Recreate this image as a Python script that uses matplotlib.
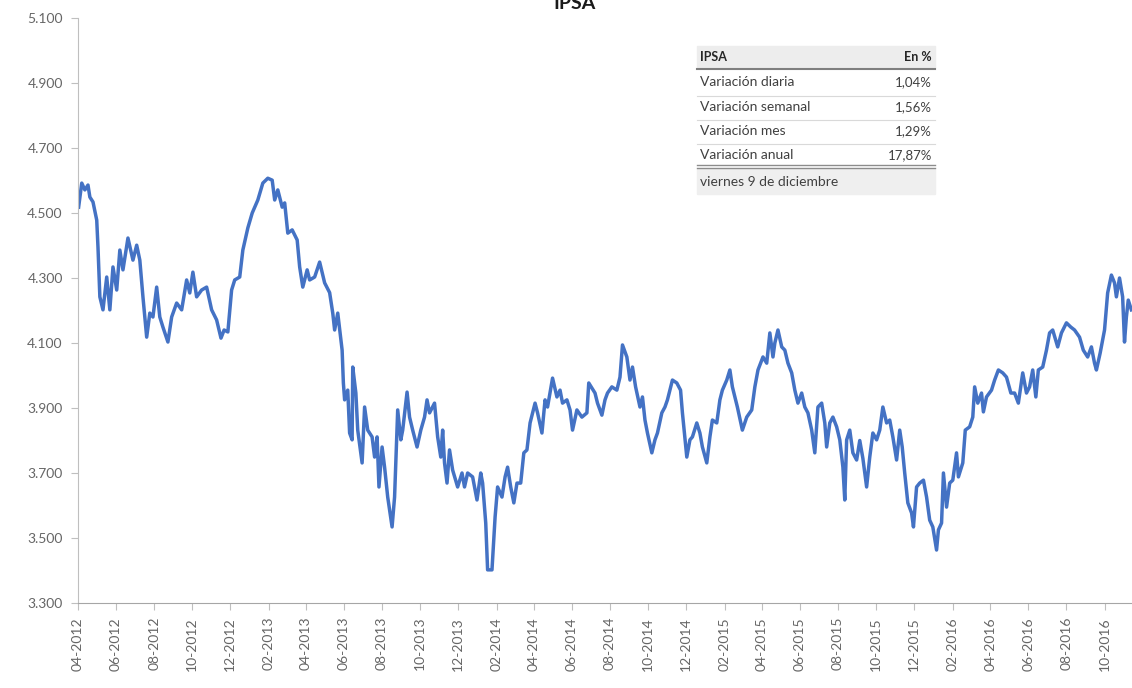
import pandas as pd
import matplotlib
matplotlib.use("Agg")
import matplotlib.pyplot as plt
import matplotlib.dates as mdates
from matplotlib.ticker import FuncFormatter
from matplotlib.patches import Rectangle
from matplotlib.lines import Line2D

plt.rcParams['font.family'] = ['Lato', 'DejaVu Sans']

# IPSA closes (points)
dates = [
    "2012-04-02", "2012-04-07", "2012-04-12", "2012-04-17", "2012-04-20", "2012-04-25", "2012-05-01", "2012-05-03",
    "2012-05-06", "2012-05-11", "2012-05-17", "2012-05-22", "2012-05-27", "2012-06-02", "2012-06-07", "2012-06-12",
    "2012-06-20", "2012-06-28", "2012-07-04", "2012-07-09", "2012-07-14", "2012-07-20", "2012-07-25", "2012-07-30",
    "2012-08-05", "2012-08-10", "2012-08-15", "2012-08-23", "2012-08-29", "2012-09-06", "2012-09-14", "2012-09-22",
    "2012-09-27", "2012-10-02", "2012-10-08", "2012-10-16", "2012-10-24", "2012-11-01", "2012-11-09", "2012-11-16",
    "2012-11-21", "2012-11-27", "2012-12-03", "2012-12-08", "2012-12-16", "2012-12-21", "2012-12-29",
    "2013-01-05", "2013-01-09", "2013-01-14", "2013-01-22", "2013-01-30", "2013-02-06", "2013-02-10", "2013-02-15",
    "2013-02-22", "2013-02-26", "2013-03-03", "2013-03-10", "2013-03-18", "2013-03-22", "2013-03-27", "2013-04-03",
    "2013-04-07", "2013-04-15", "2013-04-23", "2013-05-01", "2013-05-09", "2013-05-14", "2013-05-17", "2013-05-22",
    "2013-05-29", "2013-05-31", "2013-06-02", "2013-06-07", "2013-06-10", "2013-06-14", "2013-06-15", "2013-06-20",
    "2013-06-23", "2013-06-30", "2013-07-04", "2013-07-09", "2013-07-16", "2013-07-20", "2013-07-24", "2013-07-27",
    "2013-08-01", "2013-08-05", "2013-08-10", "2013-08-17", "2013-08-21", "2013-08-26", "2013-08-31", "2013-09-03",
    "2013-09-10", "2013-09-14", "2013-09-19", "2013-09-26", "2013-10-02", "2013-10-08", "2013-10-12", "2013-10-16",
    "2013-10-24", "2013-10-29", "2013-11-03", "2013-11-06", "2013-11-09", "2013-11-13", "2013-11-17", "2013-11-22",
    "2013-11-30", "2013-12-07", "2013-12-11", "2013-12-16", "2013-12-24", "2013-12-31",
    "2014-01-06", "2014-01-09", "2014-01-14", "2014-01-17", "2014-01-24", "2014-01-29", "2014-02-02", "2014-02-09",
    "2014-02-14", "2014-02-18", "2014-02-23", "2014-02-28", "2014-03-05", "2014-03-11", "2014-03-16", "2014-03-21",
    "2014-03-26", "2014-04-03", "2014-04-07", "2014-04-14", "2014-04-19", "2014-04-23", "2014-05-01", "2014-05-08",
    "2014-05-13", "2014-05-17", "2014-05-24", "2014-05-29", "2014-06-02", "2014-06-09", "2014-06-17", "2014-06-25",
    "2014-06-28", "2014-07-08", "2014-07-12", "2014-07-19", "2014-07-24", "2014-07-28", "2014-08-04", "2014-08-12",
    "2014-08-17", "2014-08-21", "2014-08-28", "2014-09-02", "2014-09-06", "2014-09-11", "2014-09-18", "2014-09-22",
    "2014-09-26", "2014-09-30", "2014-10-07", "2014-10-12", "2014-10-16", "2014-10-23", "2014-10-28", "2014-11-01",
    "2014-11-09", "2014-11-16", "2014-11-22", "2014-11-25", "2014-12-02", "2014-12-07", "2014-12-11", "2014-12-18",
    "2014-12-23", "2014-12-27",
    "2015-01-03", "2015-01-08", "2015-01-12", "2015-01-19", "2015-01-24", "2015-01-28", "2015-02-04", "2015-02-09",
    "2015-02-13", "2015-02-21", "2015-03-01", "2015-03-08", "2015-03-16", "2015-03-21", "2015-03-26", "2015-04-03",
    "2015-04-09", "2015-04-14", "2015-04-19", "2015-04-22", "2015-04-27", "2015-05-03", "2015-05-08", "2015-05-13",
    "2015-05-19", "2015-05-24", "2015-05-29", "2015-06-04", "2015-06-09", "2015-06-14", "2015-06-20", "2015-06-25",
    "2015-06-30", "2015-07-06", "2015-07-11", "2015-07-14", "2015-07-19", "2015-07-24", "2015-07-30", "2015-08-04",
    "2015-08-09", "2015-08-12", "2015-08-15", "2015-08-20", "2015-08-25", "2015-08-31", "2015-09-05", "2015-09-10",
    "2015-09-16", "2015-09-21", "2015-09-26", "2015-10-02", "2015-10-07", "2015-10-12", "2015-10-18", "2015-10-23",
    "2015-10-28", "2015-11-03", "2015-11-08", "2015-11-12", "2015-11-16", "2015-11-21", "2015-11-27", "2015-11-30",
    "2015-12-05", "2015-12-10", "2015-12-16", "2015-12-21", "2015-12-26", "2015-12-31",
    "2016-01-06", "2016-01-09", "2016-01-14", "2016-01-17", "2016-01-22", "2016-01-27", "2016-02-01", "2016-02-07",
    "2016-02-10", "2016-02-17", "2016-02-21", "2016-02-28", "2016-03-04", "2016-03-07", "2016-03-12", "2016-03-18",
    "2016-03-21", "2016-03-26", "2016-04-03", "2016-04-08", "2016-04-14", "2016-04-21", "2016-04-27", "2016-05-04",
    "2016-05-10", "2016-05-16", "2016-05-23", "2016-05-29", "2016-06-03", "2016-06-08", "2016-06-13", "2016-06-17",
    "2016-06-24", "2016-06-30", "2016-07-05", "2016-07-10", "2016-07-18", "2016-07-24", "2016-08-01", "2016-08-08",
    "2016-08-14", "2016-08-22", "2016-08-28", "2016-09-04", "2016-09-10", "2016-09-15", "2016-09-18", "2016-09-24",
    "2016-10-01", "2016-10-06", "2016-10-12", "2016-10-17", "2016-10-20", "2016-10-25", "2016-10-30", "2016-11-02",
    "2016-11-05", "2016-11-08", "2016-11-13",
]
ipsa = [
    4518, 4592, 4571, 4586, 4549, 4534, 4478, 4395,
    4242, 4202, 4303, 4202, 4334, 4263, 4386, 4325,
    4423, 4355, 4401, 4355, 4242, 4118, 4192, 4180,
    4272, 4180, 4149, 4103, 4180, 4223, 4202, 4294,
    4254, 4318, 4242, 4263, 4272, 4202, 4171, 4115,
    4140, 4134, 4263, 4294, 4303, 4386, 4454,
    4500, 4518, 4540, 4592, 4607, 4601, 4540, 4571,
    4518, 4531, 4438, 4448, 4417, 4334, 4272, 4325,
    4294, 4303, 4349, 4285, 4255, 4192, 4140, 4192,
    4078, 3977, 3925, 3955, 3823, 3802, 4026, 3946,
    3832, 3731, 3903, 3832, 3811, 3749, 3811, 3657,
    3780, 3718, 3626, 3534, 3626, 3894, 3802, 3832,
    3949, 3872, 3832, 3780, 3832, 3872, 3925, 3885,
    3915, 3811, 3749, 3832, 3731, 3669, 3771, 3709,
    3657, 3700, 3657, 3700, 3688, 3617,
    3700, 3669, 3546, 3402, 3402, 3565, 3657, 3626,
    3688, 3718, 3657, 3608, 3669, 3669, 3762, 3771,
    3854, 3915, 3885, 3823, 3925, 3903, 3992, 3934,
    3955, 3915, 3925, 3894, 3832, 3894, 3872, 3885,
    3977, 3946, 3915, 3878, 3925, 3946, 3965, 3955,
    3995, 4094, 4057, 3986, 4026, 3965, 3903, 3934,
    3863, 3823, 3762, 3802, 3823, 3885, 3903, 3925,
    3986, 3977, 3955, 3885, 3749, 3802, 3811, 3854,
    3823, 3780,
    3731, 3811, 3863, 3854, 3925, 3955, 3986, 4017,
    3965, 3903, 3832, 3872, 3894, 3965, 4017, 4057,
    4038, 4131, 4057, 4100, 4140, 4088, 4078, 4038,
    4008, 3955, 3915, 3946, 3903, 3885, 3832, 3762,
    3903, 3915, 3854, 3780, 3854, 3872, 3842, 3802,
    3718, 3617, 3802, 3832, 3762, 3740, 3800, 3745,
    3657, 3749, 3823, 3802, 3832, 3903, 3854, 3863,
    3811, 3740, 3832, 3780, 3700, 3608, 3577, 3534,
    3657, 3669, 3678, 3626, 3555, 3534,
    3463, 3525, 3546, 3700, 3595, 3669, 3678, 3762,
    3688, 3731, 3832, 3842, 3872, 3965, 3915, 3946,
    3888, 3934, 3955, 3986, 4017, 4008, 3995, 3946,
    3946, 3915, 4008, 3946, 3965, 4017, 3934, 4017,
    4026, 4078, 4131, 4140, 4088, 4131, 4162, 4149,
    4140, 4118, 4078, 4057, 4088, 4038, 4017, 4069,
    4140, 4254, 4309, 4285, 4242, 4300, 4242, 4103,
    4180, 4232, 4202,
]
yticks = [3300, 3500, 3700, 3900, 4100, 4300, 4500, 4700, 4900, 5100]

table_head = ["IPSA", "En %"]
table_rows = ["Variación diaria", "Variación semanal", "Variación mes", "Variación anual"]
table_vals = ["1,04%", "1,56%", "1,29%", "17,87%"]
table_foot = "viernes 9 de diciembre"

W, H = 1132, 688
fig = plt.figure(figsize=(W / 100, H / 100), dpi=100)
ax = fig.add_axes([78 / W, 1 - 603 / H, 1 - 78 / W, (603 - 18) / H])

ax.plot(pd.to_datetime(dates), ipsa, color="#4472C4", lw=2.5, solid_joinstyle="round")

ax.set_ylim(yticks[0], yticks[-1])
ax.set_yticks(yticks)
ax.yaxis.set_major_formatter(FuncFormatter(lambda v, p: f"{v:,.0f}".replace(",", ".")))
ax.set_xlim(pd.Timestamp("2012-04-01"), pd.Timestamp("2016-11-14"))
ax.xaxis.set_major_locator(mdates.MonthLocator(bymonth=[2, 4, 6, 8, 10, 12]))
ax.xaxis.set_major_formatter(mdates.DateFormatter("%m-%Y"))

for s in ["top", "right"]:
    ax.spines[s].set_visible(False)
ax.spines["left"].set_color("#BFBFBF")
ax.spines["bottom"].set_color("#A6A6A6")
ax.tick_params(axis="y", colors="#BFBFBF", labelcolor="#666666", labelsize=10, length=5, pad=6)
ax.tick_params(axis="x", colors="#BFBFBF", labelcolor="#666666", labelsize=10, length=5, pad=5,
               labelrotation=90)

# title, cut at the top edge like the reference
fig.text(575 / W, 1 - 9 / H, "IPSA", ha="center", va="baseline", fontsize=14,
         fontweight="bold", color="#1a1a1a")


def fx(px):
    return px / W


def fy(py):
    return 1 - py / H


# summary table
left, right = 697, 935
fig.patches.append(Rectangle((fx(left), fy(68)), fx(right - left), (68 - 46) / H,
                             transform=fig.transFigure, color="#EDEDED", zorder=0))
fig.patches.append(Rectangle((fx(left), fy(194)), fx(right - left), (194 - 169) / H,
                             transform=fig.transFigure, color="#EFEFEF", zorder=0))
fig.text(fx(700), fy(57), table_head[0], fontsize=9, fontweight="bold", va="center", color="#262626")
fig.text(fx(932), fy(57), table_head[1], fontsize=9, fontweight="bold", va="center", ha="right",
         color="#262626")
fig.lines.append(Line2D([fx(left), fx(right)], [fy(69), fy(69)], transform=fig.transFigure,
                        color="#7F7F7F", lw=1.5))
row_y = [82, 107, 131, 155]
for i in range(len(table_rows)):
    fig.text(fx(700), fy(row_y[i]), table_rows[i], fontsize=10, va="center", color="#404040")
    fig.text(fx(932), fy(row_y[i]), table_vals[i], fontsize=9.5, va="center", ha="right",
             color="#404040")
    if i < len(table_rows) - 1:
        yl = (row_y[i] + row_y[i + 1]) / 2 + 1
        fig.lines.append(Line2D([fx(left), fx(right)], [fy(yl), fy(yl)], transform=fig.transFigure,
                                color="#D9D9D9", lw=0.8))
for yl in [165, 168]:
    fig.lines.append(Line2D([fx(left), fx(right)], [fy(yl), fy(yl)], transform=fig.transFigure,
                            color="#8C8C8C", lw=1))
fig.text(fx(700), fy(182), table_foot, fontsize=10, va="center", color="#404040")

fig.savefig("out.png", dpi=100)
